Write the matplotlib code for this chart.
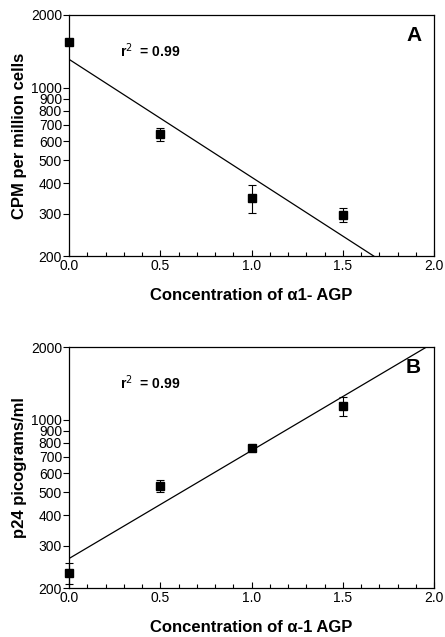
import numpy as np
import matplotlib
matplotlib.use("Agg")
import matplotlib.pyplot as plt
from matplotlib.ticker import FixedLocator, NullFormatter, MultipleLocator

plt.rcParams['font.family'] = ['Liberation Sans', 'DejaVu Sans']

# panel A
conc = [0.0, 0.5, 1.0, 1.5]
cpm = [1550, 640, 347, 296]
cpm_err = [0, 40, 46, 20]
fit_a = (1310, -0.489)   # intercept, log10 slope per unit

# panel B
p24 = [230, 530, 764, 1138]
p24_err = [23, 30, 12, 105]
fit_b = (265, 0.448)

yticks = [200, 300, 400, 500, 600, 700, 800, 900, 1000, 2000]
ytick_labels = ['200', '300', '400', '500', '600', '700', '800', '900', '1000', '2000']
xticks = [0.0, 0.5, 1.0, 1.5, 2.0]

fig = plt.figure(figsize=(4.45, 6.37), dpi=100)
W, H = 445, 637
ax1 = fig.add_axes([69 / W, 1 - 256 / H, 365 / W, 241 / H])
ax2 = fig.add_axes([69 / W, 1 - 588 / H, 365 / W, 241 / H])


def draw(ax, y, yerr, fit, ylabel, xlabel, letter):
    ax.set_yscale('log')
    ax.set_xlim(0, 2.0)
    ax.set_ylim(200, 2000)
    ax.errorbar(conc, y, yerr=yerr, fmt='s', color='black', ms=6,
                capsize=3, elinewidth=0.8, capthick=0.8, clip_on=False, zorder=3)
    xs = np.linspace(0, 2, 200)
    ys = fit[0] * 10 ** (fit[1] * xs)
    ax.plot(xs, ys, color='black', lw=0.9)
    ax.yaxis.set_major_locator(FixedLocator(yticks))
    ax.set_yticklabels(ytick_labels)
    ax.yaxis.set_minor_formatter(NullFormatter())
    ax.yaxis.set_minor_locator(FixedLocator([]))
    ax.set_xticks(xticks)
    ax.set_xticklabels(['%.1f' % v for v in xticks])
    ax.xaxis.set_minor_locator(MultipleLocator(0.1))
    ax.tick_params(axis='x', which='both', direction='in', labelsize=10, pad=2)
    ax.tick_params(axis='y', which='both', direction='out', labelsize=10, pad=1)
    ax.tick_params(which='major', length=4, width=0.8)
    ax.tick_params(which='minor', length=3, width=0.8)
    ax.set_ylabel(ylabel, fontsize=12, fontweight='bold', labelpad=3)
    ax.set_xlabel(xlabel, fontsize=12, fontweight='bold', labelpad=11)
    ax.text(0.28, 1335, r'r$^2$  = 0.99', fontsize=10, fontweight='bold')
    ax.text(0.965, 0.955, letter, transform=ax.transAxes, ha='right', va='top',
            fontsize=15, fontweight='bold')
    for s in ax.spines.values():
        s.set_linewidth(0.9)


draw(ax1, cpm, cpm_err, fit_a, 'CPM per million cells',
     'Concentration of \u03b11- AGP', 'A')
draw(ax2, p24, p24_err, fit_b, 'p24 picograms/ml',
     'Concentration of \u03b1-1 AGP', 'B')

fig.savefig('out.png', dpi=100)
